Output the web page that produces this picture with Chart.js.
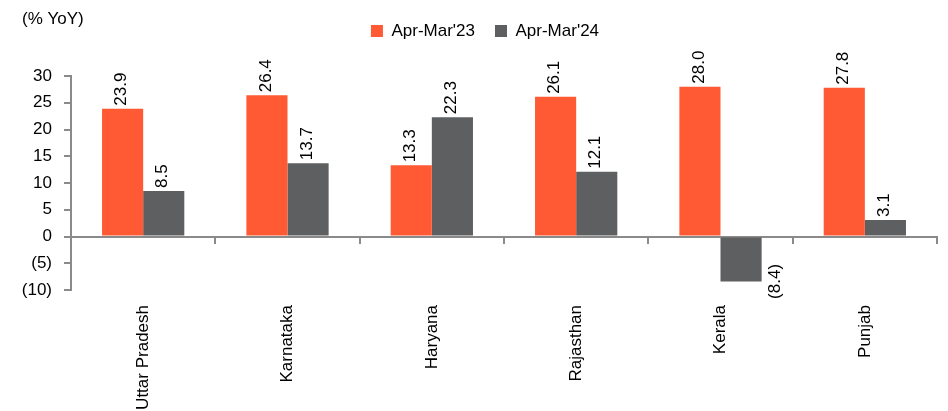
<!DOCTYPE html>
<html>
<head>
<meta charset="utf-8">
<script src="https://cdn.jsdelivr.net/npm/chart.js@4/dist/chart.umd.min.js"></script>
<style>
  html, body { margin: 0; padding: 0; background: #fff; }
  #chart { display: block; }
</style>
</head>
<body>
<canvas id="chart" width="948" height="411"></canvas>
<script>
// --- Data ---
const states = ['Uttar Pradesh', 'Karnataka', 'Haryana', 'Rajasthan', 'Kerala', 'Punjab'];
const fy23 = [23.9, 26.4, 13.3, 26.1, 28.0, 27.8];
const fy24 = [8.5, 13.7, 22.3, 12.1, -8.4, 3.1];
const seriesNames = ["Apr-Mar'23", "Apr-Mar'24"];
const yTicks = { min: -10, max: 30, step: 5 };

// --- Style ---
const ORANGE = '#FF5A33';
const GREY = '#5E5F61';
const AXIS = '#8A8A8A';
const FONT = 17;

Chart.defaults.font.family = '"Liberation Sans", Arial, sans-serif';
Chart.defaults.font.size = FONT;
Chart.defaults.color = '#000';

const fmt = v => v < 0 ? `(${Math.abs(v).toFixed(1)})` : v.toFixed(1);

// value labels, rotated like the original (negative ones sit beside the bar end)
const valueLabels = {
    id: 'valueLabels',
    afterDatasetsDraw(chart) {
        const ctx = chart.ctx;
        ctx.save();
        ctx.font = `${FONT}px "Liberation Sans", Arial, sans-serif`;
        ctx.fillStyle = '#000';
        chart.data.datasets.forEach((ds, i) => {
            chart.getDatasetMeta(i).data.forEach((bar, j) => {
                const v = ds.data[j];
                ctx.save();
                if (v >= 0) {
                    ctx.translate(bar.x - 1, bar.y - 3);
                    ctx.rotate(-Math.PI / 2);
                    ctx.textAlign = 'left';
                } else {
                    ctx.translate(bar.x + bar.width / 2 + 14, bar.y);
                    ctx.rotate(-Math.PI / 2);
                    ctx.textAlign = 'center';
                }
                ctx.textBaseline = 'middle';
                ctx.fillText(fmt(v), 0, 0);
                ctx.restore();
            });
        });
        ctx.restore();
    }
};

new Chart(document.getElementById('chart'), {
    type: 'bar',
    data: {
        labels: states,
        datasets: [
            { label: seriesNames[0], data: fy23, backgroundColor: ORANGE },
            { label: seriesNames[1], data: fy24, backgroundColor: GREY }
        ]
    },
    options: {
        responsive: false,
        animation: false,
        devicePixelRatio: 1,
        barPercentage: 1,
        categoryPercentage: 0.57,
        layout: { padding: { left: 22, right: 0, top: 0, bottom: 0 } },
        plugins: {
            title: {
                display: true,
                text: '(% YoY)',
                align: 'start',
                color: '#000',
                font: { size: FONT, weight: 'normal' },
                padding: { top: 9, bottom: -27 }
            },
            legend: {
                position: 'top',
                labels: { boxWidth: 12, boxHeight: 12, padding: 20, color: '#000', font: { size: FONT } }
            },
            // spacer between legend and plot area
            subtitle: {
                display: true,
                text: '',
                weight: 500,
                font: { size: 10 },
                padding: { top: 14.6, bottom: 0 }
            },
            tooltip: { enabled: false }
        },
        scales: {
            x: {
                grid: { display: false, drawTicks: false },
                border: { display: false },
                ticks: { minRotation: 90, maxRotation: 90, autoSkip: false, padding: 15, color: '#000' },
                afterFit: s => { s.height = 121; }
            },
            x2: {
                type: 'category',
                position: { y: 0 },
                offset: true,
                grid: { offset: true, drawOnChartArea: false, tickLength: 6, color: AXIS, lineWidth: 2 },
                border: { display: true, color: AXIS, width: 2 },
                ticks: { display: false }
            },
            y: {
                min: yTicks.min,
                max: yTicks.max,
                ticks: {
                    stepSize: yTicks.step,
                    padding: 12,
                    color: '#000',
                    callback: v => v < 0 ? `(${Math.abs(v)})` : `${v}`
                },
                grid: { drawOnChartArea: false, tickLength: 7, color: AXIS, lineWidth: 2 },
                border: { color: AXIS, width: 2 },
                afterFit: s => { s.width = 49; }
            },
            // empty right margin
            yRight: {
                position: 'right',
                grid: { display: false },
                border: { display: false },
                ticks: { display: false },
                afterFit: s => { s.width = 11; }
            }
        }
    },
    plugins: [valueLabels]
});
</script>
</body>
</html>
